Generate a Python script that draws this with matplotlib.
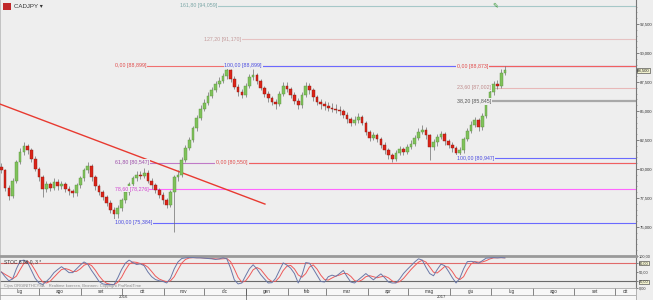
import numpy as np
import pandas as pd
import matplotlib
matplotlib.use("Agg")
import matplotlib.pyplot as plt
import matplotlib.dates as mdates
from matplotlib.patches import Rectangle

plt.rcParams["font.family"] = ["Liberation Sans", "DejaVu Sans"]

# ---------------- data ----------------
symbol = "CADJPY"
first_open = 80.2
closes = [79.9, 78.4, 77.7, 79.0, 80.6, 81.5, 82.0, 81.6, 80.9, 80.0,
          79.3, 78.3, 78.7, 78.4, 78.9, 78.5, 78.7, 78.3, 78.1, 77.9,
          78.6, 79.2, 79.9, 80.3, 79.3, 78.5, 78.0, 77.6, 77.1, 76.5,
          76.1, 76.6, 77.3, 78.0, 78.7, 79.2, 79.5, 79.4, 79.7, 79.0,
          78.6, 78.2, 77.8, 77.3, 76.9, 78.0, 79.3, 79.5, 80.8, 81.8,
          82.5, 83.5, 84.4, 85.2, 85.7, 86.3, 86.8, 87.3, 87.6, 88.0,
          88.5, 87.8, 87.1, 86.6, 86.4, 87.2, 87.9, 88.1, 87.6, 87.0,
          86.5, 86.1, 85.8, 85.6, 86.5, 87.2, 86.9, 86.4, 85.9, 85.5,
          86.4, 87.2, 86.8, 86.2, 85.8, 85.6, 85.4, 85.3, 85.2, 85.1,
          85.0, 84.7, 84.3, 84.0, 84.2, 84.5, 84.0, 83.2, 82.7, 82.9,
          82.6, 82.1, 81.6, 81.2, 80.9, 81.4, 81.7, 81.5, 81.9, 82.2,
          82.7, 83.2, 83.4, 82.9, 81.9, 82.3, 82.8, 83.0, 82.4, 82.1,
          81.8, 81.4, 81.6, 82.6, 83.3, 83.8, 84.2, 83.6, 84.6, 85.8,
          86.6, 87.3, 87.2, 88.3, 88.5]
highs = [80.5, 80.0, 78.6, 79.2, 80.8, 81.8, 82.3, 82.2, 81.8, 81.1,
         80.2, 79.5, 79.0, 78.9, 79.2, 79.1, 79.0, 78.9, 78.5, 78.3,
         78.8, 79.4, 80.1, 80.6, 80.4, 79.5, 78.7, 78.2, 77.8, 77.3,
         76.7, 76.9, 77.5, 78.2, 78.9, 79.4, 79.8, 79.8, 80.1, 79.9,
         79.2, 78.8, 78.4, 78.0, 77.5, 78.2, 79.5, 79.9, 81.0, 82.1,
         82.8, 83.7, 84.7, 85.5, 86.0, 86.6, 87.1, 87.6, 87.9, 88.3,
         88.9, 88.6, 88.0, 87.3, 86.9, 87.4, 88.2, 88.6, 88.3, 87.8,
         87.2, 86.7, 86.3, 86.0, 86.7, 87.5, 87.5, 87.1, 86.6, 86.1,
         86.6, 87.5, 87.4, 87.0, 86.4, 86.0, 85.9, 85.8, 85.7, 85.6,
         85.4, 85.2, 84.9, 84.5, 84.6, 84.8, 84.7, 84.1, 83.4, 83.2,
         83.1, 82.8, 82.3, 81.8, 81.4, 81.6, 82.0, 81.9, 82.2, 82.5,
         82.9, 83.5, 83.8, 83.6, 83.0, 82.6, 83.0, 83.3, 83.2, 82.6,
         82.3, 82.0, 81.9, 82.8, 83.5, 84.1, 84.5, 84.4, 84.8, 86.0,
         86.9, 87.6, 87.7, 88.6, 88.87]
lows = [79.7, 78.1, 77.3, 77.5, 78.8, 80.4, 81.2, 81.3, 80.6, 79.8,
        79.0, 77.6, 78.0, 78.1, 78.2, 78.2, 78.3, 78.0, 77.8, 77.6,
        77.7, 78.4, 79.0, 79.7, 79.0, 78.2, 77.8, 77.3, 76.8, 76.2,
        75.38, 75.8, 76.4, 77.1, 77.8, 78.5, 79.0, 79.1, 79.2, 78.8,
        78.3, 77.9, 77.5, 77.0, 76.6, 76.7, 74.6, 79.0, 79.3, 80.6,
        81.6, 82.3, 83.3, 84.2, 85.0, 85.5, 86.1, 86.6, 87.1, 87.4,
        87.8, 87.5, 86.9, 86.3, 86.1, 86.2, 87.0, 87.7, 87.3, 86.8,
        86.2, 85.8, 85.5, 85.2, 85.4, 86.3, 86.6, 86.1, 85.6, 85.2,
        85.3, 86.2, 86.5, 85.9, 85.5, 85.2, 85.1, 85.0, 84.9, 84.8,
        84.7, 84.4, 84.0, 83.7, 83.8, 84.0, 83.8, 82.9, 82.4, 82.5,
        82.3, 81.8, 81.3, 80.9, 80.6, 80.7, 81.2, 81.2, 81.3, 81.7,
        82.0, 82.5, 83.0, 82.6, 80.8, 81.6, 82.0, 82.6, 82.1, 81.8,
        81.5, 80.95, 81.1, 81.4, 82.4, 83.1, 83.6, 83.3, 83.4, 84.4,
        85.6, 86.4, 86.9, 87.0, 88.1]
stoch_k = [50, 35, 22, 28, 60, 85, 88, 80, 55, 30,
           15, 10, 20, 32, 48, 58, 67, 58, 48, 48,
           60, 72, 82, 75, 55, 38, 20, 12, 10, 10,
           10, 32, 58, 78, 88, 80, 74, 76, 70, 50,
           35, 26, 22, 20, 15, 30, 60, 82, 93, 95,
           96, 96, 95, 95, 94, 93, 92, 90, 92, 95,
           92, 62, 25, 12, 15, 38, 60, 73, 60, 42,
           28, 15, 16, 30, 55, 79, 72, 62, 45, 15,
           40, 80, 78, 60, 40, 20, 18, 35, 40, 36,
           45, 55, 35, 18, 15, 25, 35, 45, 35, 25,
           35, 44, 32, 18, 15, 15, 28, 45, 58, 70,
           82, 92, 88, 65, 45, 38, 58, 75, 70, 52,
           32, 15, 30, 60, 83, 84, 82, 78, 86, 94,
           95, 96, 95, 96, 95]
last_price = 88.5
ytick_values = [75.0, 77.5, 80.0, 82.5, 85.0, 87.5, 90.0, 92.5]
stoch_ticks = [0, 20, 50, 80, 100]
month_labels = ["lug", "ago", "set", "ott", "nov", "dic", "gen", "feb",
                "mar", "apr", "mag", "giu", "lug", "ago", "set", "ott"]
year_labels = ["2016", "2017"]

# Fibonacci tools
fib1_top, fib1_bottom = 88.899, 75.384
fib1_ratios = [0.0, 61.8, 78.6, 100.0]
fib2_low, fib2_high = 80.550, 88.899
fib2_ratios = [0.0, 100.0, 127.2, 161.8]
fib3_top, fib3_bottom = 88.873, 80.947
fib3_ratios = [0.0, 23.6, 38.2, 100.0]
trend_values = [85.6, 76.98]
trend_dates = ["2016-07-03", "2017-01-15"]

# ---------------- layout ----------------
BG = "#eeeeee"
fig = plt.figure(figsize=(6.53, 3.0), dpi=100, facecolor=BG)
axw = 636 / 653
ax = fig.add_axes([0, 1 - 255 / 300, axw, 255 / 300])
ax_s = fig.add_axes([0, 1 - 288 / 300, axw, 32 / 300])
ax_x = fig.add_axes([0, 0, axw, 12 / 300])
for a in (ax, ax_s):
    a.set_facecolor(BG)

x_start = mdates.date2num(pd.Timestamp("2016-07-03"))
x_end = x_start + 470.5
step = 2.78
n = len(closes)
xs = x_start + 1.0 + np.arange(n) * step
opens = [first_open] + closes[:-1]

# ---------------- candles ----------------
ax.vlines(xs, lows, highs, color="#6e6e6e", lw=0.5, zorder=3)
o = np.array(opens)
c = np.array(closes)
up = c >= o
body_h = np.where(np.abs(c - o) < 0.05, 0.05, c - o)
ax.bar(xs[up], body_h[up], bottom=o[up], width=step * 0.72,
       color="#7fc25a", edgecolor="#5a9040", linewidth=0.3, zorder=4)
ax.bar(xs[~up], body_h[~up], bottom=o[~up], width=step * 0.72,
       color="#dc2418", edgecolor="#8a1a12", linewidth=0.3, zorder=4)

ax.set_xlim(x_start, x_end)
ax.set_ylim(72.59, 94.57)


def fmt(v, d=3):
    return f"{v:.{d}f}".replace(".", ",")


def fib_line(start_date, value, ratio, color, tcolor, lw=0.8):
    xs0 = mdates.date2num(pd.Timestamp(start_date))
    ax.hlines(value, xs0, x_end, color=color, lw=lw, zorder=2)
    ax.text(xs0, value, f"{fmt(ratio, 2)} [{fmt(value)}]", fontsize=3.8,
            color=tcolor, ha="left", va="center", zorder=5,
            bbox=dict(boxstyle="square,pad=0.15", fc=BG, ec="none"))


# tool 1
f1_colors = {0.0: ("#f07070", "#e04848"), 61.8: ("#c07ac8", "#9a4aa8"),
             78.6: ("#ff66ff", "#d040d0"), 100.0: ("#6a6aff", "#4848e0")}
for r in fib1_ratios:
    v = fib1_top - r / 100 * (fib1_top - fib1_bottom)
    col, tcol = f1_colors[r]
    fib_line("2016-09-26", v, r, col, tcol)

# tool 2
f2_style = {0.0: ("#f06060", "#e04848", "2016-12-10"),
            100.0: ("#6a6aff", "#4848e0", "2016-12-16"),
            127.2: ("#e6c2c2", "#c49a9a", "2016-12-01"),
            161.8: ("#a6c8c8", "#7aa6a6", "2016-11-13")}
for r in fib2_ratios:
    v = fib2_low + r / 100 * (fib2_high - fib2_low)
    col, tcol, d = f2_style[r]
    fib_line(d, v, r, col, tcol)

# tool 3
f3_style = {0.0: ("#f06060", "#e04848", 0.8), 23.6: ("#e8b8b8", "#c08c8c", 0.8),
            38.2: ("#a8a8a8", "#555555", 1.6), 100.0: ("#6a6aff", "#4848e0", 0.8)}
for r in fib3_ratios:
    v = fib3_top - r / 100 * (fib3_top - fib3_bottom)
    col, tcol, lw = f3_style[r]
    fib_line("2017-06-06", v, r, col, tcol, lw=lw)

# trendline
ax.plot(mdates.date2num(pd.to_datetime(trend_dates)), trend_values,
        color="#e83a30", lw=1.0, zorder=3)

# axis styling main
ax.set_xticks([])
ax.yaxis.tick_right()
ax.set_yticks(ytick_values)
ax.set_yticklabels([fmt(v) for v in ytick_values])
ax.set_yticks(np.arange(73.0, 94.5, 0.5), minor=True)
ax.tick_params(axis="y", which="major", labelsize=3.1, length=2.0, pad=0.6,
               colors="#555555", labelcolor="#333333", width=0.5)
ax.tick_params(axis="y", which="minor", length=1.0, colors="#777777", width=0.4)
for side in ("top", "bottom"):
    ax.spines[side].set_visible(False)
ax.spines["left"].set_color("#bbbbbb")
ax.spines["left"].set_linewidth(0.6)
ax.spines["right"].set_color("#777777")
ax.spines["right"].set_linewidth(0.8)

ax.text(1.002, last_price, fmt(last_price), transform=ax.get_yaxis_transform(),
        fontsize=3.1, ha="left", va="center", color="#222222", zorder=6,
        bbox=dict(boxstyle="square,pad=0.12", fc="#f2f2cf", ec="#333333", lw=0.4),
        clip_on=False)

# title / icons
fig.patches.append(Rectangle((3 / 653, 1 - 10 / 300), 8 / 653, 7 / 300,
                             transform=fig.transFigure, fc="#c0282a", ec="none"))
fig.text(14 / 653, 1 - 6 / 300, symbol + " \u25be", fontsize=4.4,
         color="#333333", va="center", ha="left")
fig.text(495 / 653, 1 - 5 / 300, "\u270e", fontsize=5, color="#3a9a3a",
         va="center", ha="center", family="DejaVu Sans")

# ---------------- stochastic ----------------
stoch_d = pd.Series(stoch_k, dtype=float).rolling(3, min_periods=1).mean()
ax_s.axhline(80, color="#e06a6a", lw=0.8, zorder=1)
ax_s.axhline(20, color="#6a6a6a", lw=0.8, zorder=1)
ax_s.plot(xs, stoch_k, color="#6a78a8", lw=0.7, zorder=3)
ax_s.plot(xs, stoch_d, color="#ef5a5a", lw=0.7, zorder=2)
ax_s.set_xlim(x_start, x_end)
ax_s.set_ylim(-1, 101)
ax_s.set_xticks([])
ax_s.yaxis.tick_right()
ax_s.set_yticks(stoch_ticks)
ax_s.set_yticklabels([fmt(v, 2) for v in stoch_ticks])
ax_s.tick_params(axis="y", labelsize=2.8, length=1.5, pad=0.6, colors="#555555",
                 labelcolor="#333333", width=0.5)
for lab, v in zip(ax_s.get_yticklabels(), stoch_ticks):
    if v in (20, 80):
        lab.set_bbox(dict(boxstyle="square,pad=0.1", fc="#f2f2cf", ec="#333333", lw=0.4))
ax_s.spines["top"].set_color("#999999")
ax_s.spines["top"].set_linewidth(2.0)
ax_s.spines["bottom"].set_color("#999999")
ax_s.spines["bottom"].set_linewidth(0.6)
ax_s.spines["left"].set_color("#bbbbbb")
ax_s.spines["left"].set_linewidth(0.6)
ax_s.spines["right"].set_color("#777777")
ax_s.spines["right"].set_linewidth(0.8)
ax_s.text(0.006, 0.83, "STOC 8 86 0, 3 *", transform=ax_s.transAxes,
          fontsize=3.5, color="#333333", va="center", ha="left")
ax_s.text(0.006, 0.07, "Cijns ORGINITHCYSA    Realtime koersen, Bronnen: Copyright ProRealTime",
          transform=ax_s.transAxes, fontsize=2.9, color="#888888", va="center", ha="left")

# ---------------- date strip ----------------
ax_x.set_facecolor("#f7f7f7")
ax_x.set_xlim(x_start, x_end)
ax_x.set_ylim(0, 1)
ax_x.set_xticks([])
ax_x.set_yticks([])
for s in ax_x.spines.values():
    s.set_color("#999999")
    s.set_linewidth(0.5)
split = 5 / 12
ax_x.axhline(split, color="#999999", lw=0.5)
month_starts = mdates.date2num(pd.date_range("2016-07-01", "2017-11-01", freq="MS"))
for ms in month_starts[1:-1]:
    if x_start < ms < x_end:
        ax_x.vlines(ms, split, 1, color="#555555", lw=0.5)
for i, lab in enumerate(month_labels):
    a0 = max(month_starts[i], x_start)
    a1 = min(month_starts[i + 1], x_end)
    ax_x.text((a0 + a1) / 2, (split + 1) / 2, lab, fontsize=3.3, color="#333333",
              ha="center", va="center")
year_bounds = mdates.date2num(pd.to_datetime(["2016-01-01", "2017-01-01", "2018-01-01"]))
ax_x.vlines(year_bounds[1], 0, 1, color="#555555", lw=0.5)
for i, lab in enumerate(year_labels):
    a0 = max(year_bounds[i], x_start)
    a1 = min(year_bounds[i + 1], x_end)
    ax_x.text((a0 + a1) / 2, split / 2, lab, fontsize=3.1, color="#333333",
              ha="center", va="center")

fig.savefig("out.png", dpi=100, facecolor=BG)
